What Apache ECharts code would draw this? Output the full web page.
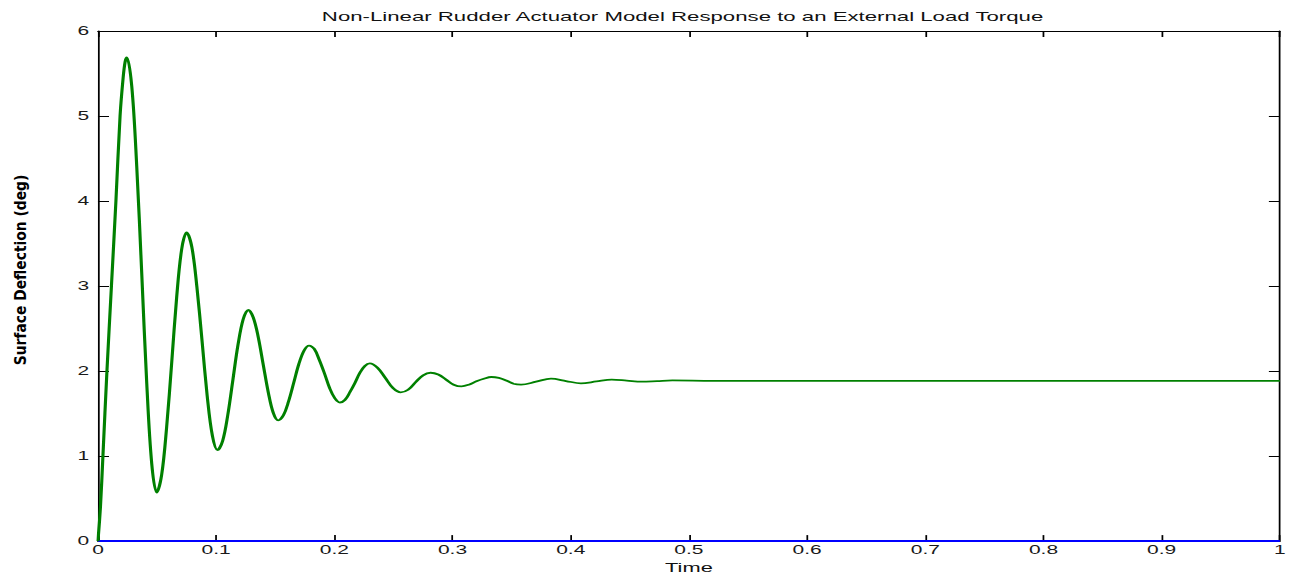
<!DOCTYPE html>
<html>
<head>
<meta charset="utf-8">
<script src="https://cdn.jsdelivr.net/npm/echarts@6/dist/echarts.min.js"></script>
<style>
html,body{margin:0;padding:0;background:#fff;overflow:hidden;}
#wrap{width:1291px;height:579px;overflow:hidden;position:relative;}
#chart{width:738px;height:579px;transform:scaleX(1.7493);transform-origin:0 0;position:absolute;left:0;top:0;}
</style>
</head>
<body>
<div id="wrap"><div id="chart"></div></div>
<script>
// ---- data ----
const titleText = 'Non-Linear Rudder Actuator Model Response to an External Load Torque';
const xName = 'Time';
const yName = 'Surface Deflection (deg)';
const xTickLabels = ['0','0.1','0.2','0.3','0.4','0.5','0.6','0.7','0.8','0.9','1'];
const yTickLabels = ['0','1','2','3','4','5','6'];

const time = [
  0, 0.0021, 0.0042, 0.0076, 0.0114, 0.0152, 0.0187, 0.0213, 0.0230, 0.0244,
  0.0286, 0.0328, 0.0371, 0.0413, 0.0455, 0.0497,
  0.0539, 0.0581, 0.0624, 0.0666, 0.0708, 0.0750,
  0.0794, 0.0837, 0.0881, 0.0924, 0.0968, 0.1011,
  0.1055, 0.1098, 0.1142, 0.1185, 0.1229, 0.1272,
  0.1314, 0.1356, 0.1399, 0.1441, 0.1483, 0.1525,
  0.1569, 0.1612, 0.1656, 0.1699, 0.1743, 0.1786,
  0.1830, 0.1873, 0.1917, 0.1960, 0.2004, 0.2047,
  0.2089, 0.2131, 0.2174, 0.2216, 0.2258, 0.2300,
  0.2365, 0.2431, 0.2496, 0.2561,
  0.2624, 0.2688, 0.2751, 0.2814,
  0.2879, 0.2945, 0.3010, 0.3075,
  0.3138, 0.3202, 0.3265, 0.3328,
  0.3391, 0.3454, 0.3517, 0.3580,
  0.3707, 0.3833, 0.3960, 0.4086, 0.4217, 0.4347, 0.4474, 0.4600, 0.4730, 0.4860,
  0.52, 0.6, 0.7, 0.8, 0.9, 1.0
];
const deflection = [
  0, 0.40, 1.00, 2.00, 3.00, 4.00, 5.00, 5.45, 5.64, 5.69,
  5.35, 4.41, 3.13, 1.85, 0.91, 0.57,
  0.78, 1.34, 2.10, 2.87, 3.43, 3.63,
  3.46, 2.99, 2.35, 1.71, 1.24, 1.07,
  1.18, 1.48, 1.90, 2.31, 2.61, 2.72,
  2.63, 2.40, 2.07, 1.75, 1.51, 1.42,
  1.48, 1.64, 1.86, 2.08, 2.24, 2.30,
  2.26, 2.13, 1.97, 1.80, 1.68, 1.63,
  1.66, 1.75, 1.86, 1.98, 2.06, 2.09,
  2.04, 1.92, 1.80, 1.75,
  1.78, 1.87, 1.95, 1.98,
  1.96, 1.90, 1.84, 1.82,
  1.84, 1.88, 1.91, 1.93,
  1.92, 1.89, 1.85, 1.84,
  1.875, 1.91, 1.883, 1.855, 1.878, 1.90, 1.888, 1.875, 1.882, 1.89,
  1.885, 1.885, 1.885, 1.885, 1.885, 1.885
];
const zeroLineTime = [0, 1];
const zeroLineValue = [0, 0];

// ---- chart ----
const SX = 1.7493;
const font = "'Liberation Sans', Arial, sans-serif";
const chart = echarts.init(document.getElementById('chart'), null, {renderer: 'svg'});

const lineData = time.map((t, i) => [t, deflection[i]]);
const zeroData = zeroLineTime.map((t, i) => [t, zeroLineValue[i]]);

const xBase = {
  type: 'value', min: 0, max: 1, interval: 0.1,
  splitLine: {show: false},
  axisLine: {show: true, onZero: false, lineStyle: {color: '#000', width: 1}},
  axisTick: {show: true, inside: true, length: 6, lineStyle: {color: '#000', width: 1}}
};
const yBase = {
  type: 'value', min: 0, max: 6, interval: 1,
  splitLine: {show: false},
  axisLine: {show: true, onZero: false, lineStyle: {color: '#000', width: 1}},
  axisTick: {show: true, inside: true, length: 6.3, lineStyle: {color: '#000', width: 1}}
};

chart.setOption({
  animation: false,
  backgroundColor: '#fff',
  title: {
    text: titleText,
    left: 184, top: 10, padding: 0,
    textStyle: {fontFamily: font, fontSize: 12.7, fontWeight: 'normal', color: '#111'}
  },
  grid: {left: 56, right: 3.4, top: 31, bottom: 33, containLabel: false},
  xAxis: [
    Object.assign({}, xBase, {
      position: 'bottom',
      name: xName, nameLocation: 'middle', nameGap: 18,
      nameTextStyle: {fontFamily: font, fontSize: 12.5, color: '#111'},
      axisLabel: {
        show: true, margin: 3, fontFamily: font, fontSize: 12, color: '#1a1a1a',
        formatter: v => xTickLabels[Math.round(v * 10)]
      }
    }),
    Object.assign({}, xBase, {position: 'top', axisLabel: {show: false}})
  ],
  yAxis: [
    Object.assign({}, yBase, {
      position: 'left',
      axisLabel: {
        show: true, margin: 5, fontFamily: font, fontSize: 12, color: '#1a1a1a',
        formatter: v => yTickLabels[Math.round(v)]
      }
    }),
    Object.assign({}, yBase, {position: 'right', axisLabel: {show: false}})
  ],
  graphic: [{
    type: 'text',
    x: 21 / SX, y: 270,
    rotation: Math.PI / 2,
    scaleX: 1, scaleY: 1 / SX,
    style: {
      text: yName,
      font: "bold 15.4px 'Liberation Sans Narrow', 'DejaVu Sans Condensed', sans-serif",
      fill: '#000',
      textAlign: 'center',
      textVerticalAlign: 'middle'
    }
  }],
  series: [
    {
      type: 'line', xAxisIndex: 0, yAxisIndex: 0,
      data: zeroData, showSymbol: false, symbol: 'none',
      lineStyle: {color: '#0000ff', width: 2}, z: 3
    },
    {
      type: 'line', xAxisIndex: 0, yAxisIndex: 0,
      data: lineData, showSymbol: false, symbol: 'none',
      smooth: 0.35,
      lineStyle: {color: '#008000', width: 1.8}, z: 4
    }
  ]
});
</script>
</body>
</html>
